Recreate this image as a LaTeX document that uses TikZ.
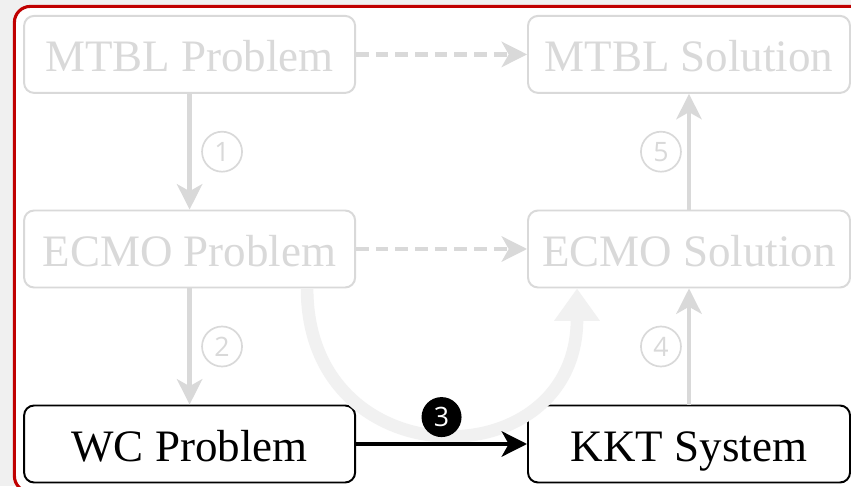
\documentclass[tikz,border=0pt]{standalone}
\usepackage{fontspec}
\setmainfont{Liberation Serif}
\newfontfamily\stepfont{Open Sans}
\usetikzlibrary{arrows.meta}
\definecolor{fadegray}{HTML}{D9D9D9}
\definecolor{ghostgray}{HTML}{F1F1F1}
\definecolor{framered}{HTML}{C00000}
\definecolor{pagegray}{HTML}{F0F0F0}
\tikzset{
  stage/.style={draw, rounded corners=0.25cm, line width=1.4pt, minimum height=1.925cm,
    inner sep=0pt, text height=30.8pt, text depth=6pt, font=\fontsize{32}{36}\selectfont},
  faded/.style={draw=fadegray, text=fadegray},
  flow/.style={line width=3pt, -{Stealth[length=18pt,width=18pt,inset=5pt]}},
  later/.style={dash pattern=on 9pt off 5pt},
  stepmark/.style={circle, draw=fadegray, text=fadegray, line width=1.2pt, minimum size=1cm,
    inner sep=0pt, font=\stepfont\fontsize{19}{21}\selectfont},
  stepnow/.style={circle, fill=black, text=white, minimum size=1cm,
    inner sep=0pt, font=\stepfont\fontsize{19}{21}\selectfont},
}
\begin{document}
\begin{tikzpicture}
\useasboundingbox (0,0) rectangle (21.275,12.15);
\fill[pagegray] (0,0) rectangle (21.275,12.15);
\draw[framered, line width=2.2pt, fill=white, rounded corners=0.4cm] (0.36,-0.15) rectangle (21.8,11.99);

\node[stage, faded, minimum width=8.275cm] (mp) at (4.74,10.79) {MTBL Problem};
\node[stage, faded, minimum width=8.05cm] (ms) at (17.225,10.79) {MTBL Solution};
\node[stage, faded, minimum width=8.275cm] (ep) at (4.74,5.925) {ECMO Problem};
\node[stage, faded, minimum width=8.05cm] (es) at (17.225,5.925) {ECMO Solution};
\node[stage, minimum width=8.275cm] (wc) at (4.74,1.05) {WC Problem};
\node[stage, minimum width=8.05cm] (kkt) at (17.225,1.05) {KKT System};

% shortcut, drawn first so it stays behind
\draw[ghostgray, line width=9pt, -{Triangle[length=23pt,width=31pt]}]
  ([xshift=-1.225cm]ep.south east) .. controls +(0,-4.8) and +(0,-4.8) .. ([xshift=1.25cm]es.south west);

\path[draw,flow,later,fadegray] (mp) -- (ms);
\path[draw,flow,later,fadegray] (ep) -- (es);
\path[draw,flow,fadegray] (mp) -- node[stepmark, right=0.29cm] {1} (ep);
\path[draw,flow,fadegray] (ep) -- node[stepmark, right=0.29cm] {2} (wc);
\path[draw,flow] (wc) -- node[stepnow, above=0.12cm] {3} (kkt);
\path[draw,flow,fadegray] (kkt) -- node[stepmark, left=0.18cm] {4} (es);
\path[draw,flow,fadegray] (es) -- node[stepmark, left=0.18cm] {5} (ms);
\end{tikzpicture}
\end{document}
